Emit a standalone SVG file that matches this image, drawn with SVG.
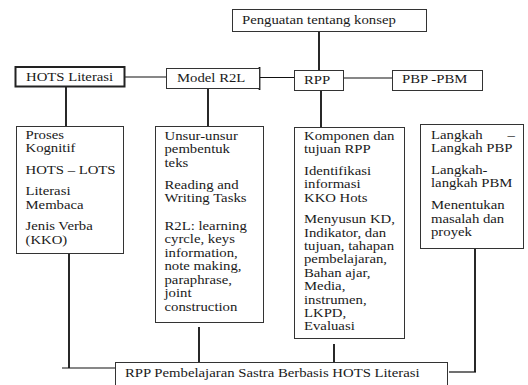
<svg xmlns="http://www.w3.org/2000/svg" width="528" height="385" viewBox="0 0 528 385">
<style>
.box{fill:#fff;stroke:#333;stroke-width:1}
.cv{stroke:#111;stroke-width:1.8;fill:none}
.ch{stroke:#111;stroke-width:1.2;fill:none}
</style>
<rect width="528" height="385" fill="#fff"/>
<g id="connectors">
<line class="cv" x1="319" y1="31" x2="319" y2="70"/>
<line class="ch" x1="124" y1="77" x2="166" y2="77"/>
<line class="ch" x1="260" y1="77.5" x2="294" y2="77.5"/>
<line class="cv" x1="259.5" y1="67" x2="259.5" y2="90"/>
<line class="ch" x1="343" y1="78" x2="392" y2="78"/>
<line class="cv" x1="66" y1="87" x2="66" y2="126"/>
<line class="cv" x1="208" y1="89" x2="208" y2="126"/>
<line class="cv" x1="321" y1="91" x2="321" y2="127"/>
<line class="cv" x1="69" y1="254" x2="69" y2="368"/>
<line class="ch" x1="62" y1="368" x2="115" y2="368"/>
<line class="cv" x1="199" y1="327" x2="199" y2="362"/>
<line class="cv" x1="334" y1="344" x2="334" y2="362"/>
<line class="cv" x1="475" y1="249" x2="475" y2="372"/>
<line class="ch" x1="449" y1="372" x2="476" y2="372"/>
</g>
<g font-family="Liberation Serif, Times New Roman, serif" font-size="11.8" fill="#1a1a1a">
<g id="penguatan">
<rect class="box" x="232.5" y="9.5" width="194" height="22"/>
<text transform="scale(1.25,1)" x="193.6" y="24.5">Penguatan tentang konsep</text>
</g>
<g id="hots-literasi">
<rect class="box" x="15.5" y="67" width="109" height="19.5" style="stroke-width:2;stroke:#222"/>
<text transform="scale(1.25,1)" x="20.8" y="81">HOTS Literasi</text>
</g>
<g id="model-r2l">
<rect class="box" x="166.5" y="68.5" width="93" height="20"/>
<text transform="scale(1.25,1)" x="141.6" y="82.5">Model R2L</text>
</g>
<g id="rpp">
<rect class="box" x="294.5" y="70.5" width="49" height="20"/>
<text transform="scale(1.25,1)" x="243.2" y="84">RPP</text>
</g>
<g id="pbp-pbm">
<rect class="box" x="392.5" y="70.5" width="90" height="20"/>
<text transform="scale(1.25,1)" x="321.6" y="83.5">PBP -PBM</text>
</g>
<g id="box-proses">
<rect class="box" x="16.5" y="126.5" width="107" height="127"/>
<text transform="scale(1.25,1)">
<tspan x="20.4" y="139">Proses</tspan>
<tspan x="20.4" y="152.4">Kognitif</tspan>
<tspan x="20.4" y="174">HOTS – LOTS</tspan>
<tspan x="20.4" y="195.5">Literasi</tspan>
<tspan x="20.4" y="209">Membaca</tspan>
<tspan x="20.4" y="230.5">Jenis Verba</tspan>
<tspan x="20.4" y="244">(KKO)</tspan>
</text>
</g>
<g id="box-unsur">
<rect class="box" x="155.5" y="126.5" width="108" height="196"/>
<text transform="scale(1.25,1)">
<tspan x="131.6" y="140">Unsur-unsur</tspan>
<tspan x="131.6" y="153.4">pembentuk</tspan>
<tspan x="131.6" y="166.8">teks</tspan>
<tspan x="131.6" y="189">Reading and</tspan>
<tspan x="131.6" y="202.5">Writing Tasks</tspan>
<tspan x="131.6" y="230">R2L: learning</tspan>
<tspan x="131.6" y="243.5">cyrcle, keys</tspan>
<tspan x="131.6" y="257">information,</tspan>
<tspan x="131.6" y="270.5">note making,</tspan>
<tspan x="131.6" y="284">paraphrase,</tspan>
<tspan x="131.6" y="297.5">joint</tspan>
<tspan x="131.6" y="311">construction</tspan>
</text>
</g>
<g id="box-komponen">
<rect class="box" x="294.5" y="127.5" width="110" height="211"/>
<text transform="scale(1.25,1)">
<tspan x="243.2" y="140">Komponen dan</tspan>
<tspan x="243.2" y="153.4">tujuan RPP</tspan>
<tspan x="243.2" y="175">Identifikasi</tspan>
<tspan x="243.2" y="188.4">informasi</tspan>
<tspan x="243.2" y="201.8">KKO Hots</tspan>
<tspan x="243.2" y="223.3">Menyusun KD,</tspan>
<tspan x="243.2" y="236.7">Indikator, dan</tspan>
<tspan x="243.2" y="250">tujuan, tahapan</tspan>
<tspan x="243.2" y="263.4">pembelajaran,</tspan>
<tspan x="243.2" y="276.8">Bahan ajar,</tspan>
<tspan x="243.2" y="290.2">Media,</tspan>
<tspan x="243.2" y="303.6">instrumen,</tspan>
<tspan x="243.2" y="317">LKPD,</tspan>
<tspan x="243.2" y="330.4">Evaluasi</tspan>
</text>
</g>
<g id="box-langkah">
<rect class="box" x="420.5" y="124.5" width="103" height="124"/>
<text transform="scale(1.25,1)">
<tspan x="344.8" y="139">Langkah</tspan><tspan x="406" y="139">–</tspan>
<tspan x="344.8" y="152.4">Langkah PBP</tspan>
<tspan x="344.8" y="174">Langkah-</tspan>
<tspan x="344.8" y="187.4">langkah PBM</tspan>
<tspan x="344.8" y="209.5">Menentukan</tspan>
<tspan x="344.8" y="223">masalah dan</tspan>
<tspan x="344.8" y="236.4">proyek</tspan>
</text>
</g>
<g id="rpp-final">
<rect class="box" x="115.5" y="362.5" width="332" height="30"/>
<text transform="scale(1.25,1)" x="100" y="377">RPP Pembelajaran Sastra Berbasis HOTS Literasi</text>
</g>
</g>
</svg>
